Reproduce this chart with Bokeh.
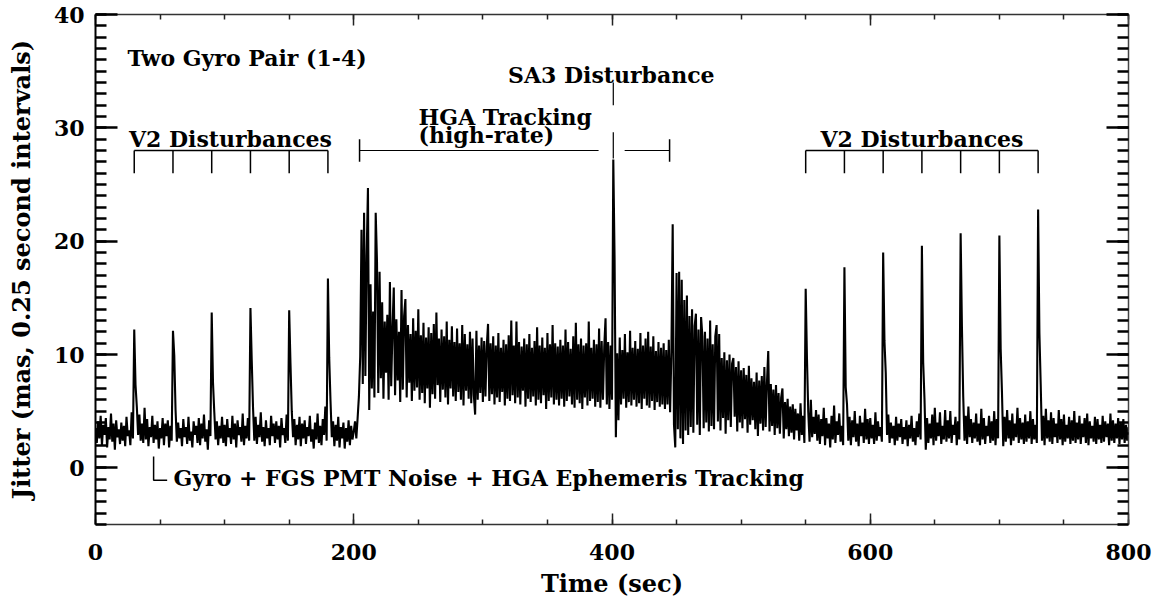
from bokeh.plotting import figure
from bokeh.models import Label, LinearAxis, SingleIntervalTicker, CustomLabelingPolicy
from bokeh.embed import file_html
from bokeh.resources import INLINE

# ---------------- data ----------------
time_sec = list(range(0, 801))  # 1-second sampling grid

jitter_mas = [
    # 0-19
    3.5, 2.2, 4.1, 2.6, 4.6, 2.0, 3.8, 2.9, 4.4, 1.8, 3.6, 2.5, 4.8, 2.3, 3.9, 1.6, 4.2, 2.7, 3.4, 2.1,
    # 20-39
    4.0, 2.4, 3.7, 1.9, 4.5, 2.8, 3.3, 2.0, 4.9, 2.6, 12.2, 7.3, 5.4, 2.9, 4.7, 2.4, 3.9, 2.2, 5.3, 2.5,
    # 40-59
    4.3, 1.9, 3.6, 2.7, 4.6, 2.2, 3.8, 2.5, 4.1, 1.7, 3.5, 2.6, 4.4, 2.0, 3.9, 2.8, 4.2, 1.8, 3.7, 2.4,
    # 60-79
    12.1, 9.9, 5.1, 2.3, 4.0, 2.6, 3.5, 1.9, 4.3, 2.7, 3.6, 2.1, 4.5, 2.4, 3.2, 1.8, 4.1, 2.9, 3.7, 2.2,
    # 80-99
    4.4, 2.0, 3.9, 2.6, 4.7, 2.3, 3.4, 1.6, 4.2, 2.8, 13.7, 7.5, 4.9, 2.5, 4.1, 2.0, 3.7, 2.6, 4.5, 2.2,
    # 100-119
    3.8, 1.9, 4.3, 2.7, 3.5, 2.1, 4.6, 2.5, 3.9, 1.8, 4.2, 2.9, 3.6, 2.3, 4.8, 2.0, 3.7, 2.6, 4.4, 2.4,
    # 120-139
    14.1, 9.5, 5.3, 2.4, 4.5, 2.1, 3.8, 2.7, 4.9, 2.3, 3.6, 1.9, 4.2, 2.6, 3.5, 2.0, 4.6, 2.8, 3.9, 2.2,
    # 140-159
    4.1, 2.5, 3.7, 1.8, 4.4, 2.9, 3.5, 2.2, 4.7, 2.4, 13.9, 9.2, 5.0, 2.7, 4.3, 2.0, 3.8, 2.5, 4.5, 1.9,
    # 160-179
    3.9, 2.6, 4.2, 2.1, 3.6, 2.8, 4.6, 2.3, 3.4, 1.7, 4.0, 2.5, 4.8, 2.2, 3.7, 2.0, 4.3, 2.9, 5.4, 2.4,
    # 180-199
    16.7, 9.7, 5.9, 2.7, 4.1, 1.9, 3.8, 2.4, 4.5, 1.8, 3.6, 2.6, 4.0, 1.7, 3.5, 2.3, 4.2, 2.0, 3.7, 2.5,
    # 200-219
    3.2, 4.1, 2.6, 4.4, 6.3, 9.8, 21.0, 7.4, 22.5, 8.1, 18.8, 24.7, 5.1, 16.2, 7.0, 13.8, 6.2, 22.5, 18.2, 6.6,
    # 220-239
    17.3, 7.9, 14.6, 6.1, 12.9, 8.4, 13.5, 6.0, 16.4, 7.2, 12.3, 15.9, 6.4, 13.1, 7.7, 12.0, 5.8, 15.7, 6.9, 13.4,
    # 240-259
    14.9, 6.2, 12.6, 7.5, 11.8, 5.9, 13.2, 6.8, 12.1, 7.1, 14.0, 6.0, 11.7, 6.6, 12.8, 5.7, 11.5, 7.0, 12.4, 5.3,
    # 260-279
    11.9, 6.5, 12.7, 6.1, 13.7, 7.3, 11.4, 5.8, 12.2, 6.9, 11.6, 6.2, 12.9, 5.6, 11.3, 7.0, 12.5, 6.3, 11.1, 5.9,
    # 280-299
    12.3, 6.7, 11.0, 6.0, 12.6, 5.5, 11.8, 6.8, 10.9, 6.1, 12.0, 5.7, 11.4, 6.4, 4.7, 12.1, 6.0, 10.8, 6.6, 11.5,
    # 300-319
    5.8, 11.2, 6.3, 10.7, 12.7, 5.9, 11.0, 6.5, 11.6, 5.6, 10.8, 6.2, 11.9, 5.8, 10.6, 6.7, 11.3, 5.5, 10.9, 6.1,
    # 320-339
    11.7, 5.9, 13.0, 6.4, 10.8, 5.7, 12.9, 6.2, 11.1, 5.6, 10.7, 6.8, 11.4, 5.4, 10.9, 6.1, 11.8, 5.8, 10.6, 6.3,
    # 340-359
    11.2, 5.5, 12.4, 6.0, 10.8, 5.7, 11.5, 6.4, 10.6, 5.2, 11.9, 5.9, 10.9, 6.2, 12.6, 5.6, 11.0, 6.0, 10.7, 5.5,
    # 360-379
    11.3, 6.1, 10.8, 5.4, 12.2, 5.9, 11.1, 6.3, 10.5, 5.6, 11.6, 5.3, 12.8, 6.0, 10.9, 5.7, 11.4, 5.2, 10.8, 6.2,
    # 380-399
    11.0, 5.5, 12.9, 5.9, 10.6, 6.1, 11.3, 5.4, 10.9, 5.8, 12.3, 5.3, 11.2, 6.0, 10.7, 13.2, 5.6, 11.1, 5.2, 10.8,
    # 400-419
    6.0, 27.2, 18.4, 2.7, 10.1, 4.2, 11.5, 5.6, 10.4, 6.1, 11.8, 5.3, 10.2, 5.8, 12.1, 5.5, 10.6, 6.0, 11.2, 5.4,
    # 420-439
    10.5, 5.7, 11.9, 5.2, 10.8, 6.1, 11.4, 5.5, 12.0, 5.3, 10.7, 5.9, 11.6, 5.1, 10.3, 5.8, 11.1, 5.4, 10.6, 5.6,
    # 440-459
    11.0, 5.2, 10.4, 5.6, 11.3, 4.9, 10.2, 21.5, 3.8, 1.8, 17.2, 3.4, 17.3, 2.6, 16.6, 2.1, 14.8, 3.3, 15.2, 2.9,
    # 460-479
    13.4, 3.6, 14.0, 3.1, 12.5, 13.6, 3.8, 12.2, 2.9, 13.3, 11.6, 3.5, 12.0, 4.0, 11.4, 3.2, 13.0, 3.7, 10.9, 3.4,
    # 480-499
    11.6, 12.6, 4.1, 11.8, 3.3, 9.7, 4.4, 10.2, 3.0, 9.5, 4.2, 10.0, 3.6, 9.2, 9.7, 4.5, 8.9, 3.2, 9.4, 4.0,
    # 500-519
    8.6, 3.5, 8.8, 4.3, 8.2, 3.1, 9.0, 3.8, 7.9, 4.2, 7.6, 3.4, 8.4, 2.8, 7.7, 3.9, 8.1, 3.3, 8.9, 3.6,
    # 520-539
    7.5, 10.3, 3.2, 7.4, 3.7, 6.9, 2.9, 7.3, 3.5, 6.6, 3.0, 6.2, 7.0, 2.6, 5.8, 3.4, 6.1, 2.8, 5.4, 3.1,
    # 540-559
    5.6, 2.5, 5.2, 3.3, 4.8, 2.4, 5.7, 2.9, 4.6, 2.2, 15.8, 9.6, 4.9, 2.3, 6.0, 2.7, 4.5, 3.0, 5.1, 2.4,
    # 560-579
    4.7, 2.1, 4.3, 2.8, 5.3, 2.0, 4.4, 2.6, 3.9, 1.8, 4.6, 2.5, 5.5, 2.2, 4.1, 2.9, 4.8, 2.3, 3.7, 2.0,
    # 580-599
    17.7, 7.1, 5.6, 2.4, 4.5, 2.0, 4.2, 2.7, 5.0, 2.3, 3.9, 1.9, 4.6, 2.8, 4.0, 2.2, 5.2, 2.5, 4.3, 2.1,
    # 600-619
    4.4, 2.6, 3.8, 2.1, 4.9, 2.4, 4.1, 2.8, 3.6, 2.3, 19.0, 11.2, 8.4, 2.9, 4.7, 2.2, 4.0, 2.6, 3.7, 2.0,
    # 620-639
    4.5, 2.4, 3.9, 2.7, 4.3, 2.1, 3.6, 2.5, 4.2, 1.9, 3.8, 2.6, 4.6, 2.3, 3.5, 2.0, 4.1, 2.7, 4.8, 2.5,
    # 640-659
    19.6, 9.3, 6.1, 1.6, 4.4, 2.2, 3.9, 2.6, 4.7, 2.0, 5.3, 2.4, 4.0, 2.8, 4.9, 2.1, 3.7, 2.5, 5.1, 2.3,
    # 660-679
    4.2, 2.6, 5.0, 2.2, 3.8, 2.9, 4.5, 2.0, 4.1, 2.5, 20.7, 12.4, 6.3, 2.4, 4.6, 2.1, 5.4, 2.7, 4.3, 2.2,
    # 680-699
    4.0, 2.6, 4.8, 2.3, 3.9, 2.0, 5.2, 2.5, 4.4, 2.1, 3.7, 2.8, 4.6, 2.2, 4.1, 2.4, 5.0, 2.0, 4.3, 2.6,
    # 700-719
    20.5, 10.5, 6.7, 1.9, 4.5, 2.3, 5.1, 2.6, 4.2, 2.0, 4.8, 2.4, 3.9, 2.7, 5.3, 2.2, 4.4, 2.5, 4.0, 2.1,
    # 720-739
    4.7, 2.3, 4.1, 2.6, 5.0, 2.1, 4.3, 2.5, 3.8, 2.2, 22.8, 11.9, 7.4, 2.4, 4.6, 2.0, 5.2, 2.6, 4.2, 2.3,
    # 740-759
    4.9, 2.1, 4.4, 2.7, 3.9, 2.2, 5.1, 2.5, 4.3, 2.0, 4.7, 2.3, 3.8, 2.6, 4.5, 2.1, 4.2, 2.4, 5.0, 2.2,
    # 760-779
    4.0, 2.5, 4.6, 2.1, 3.9, 2.7, 4.4, 2.2, 4.8, 2.0, 4.1, 2.6, 3.7, 2.3, 4.5, 2.1, 4.3, 2.5, 3.8, 2.2,
    # 780-799
    4.6, 2.3, 4.1, 2.7, 3.9, 2.0, 4.8, 2.4, 4.2, 2.2, 3.9, 2.6, 4.4, 2.1, 4.0, 2.5, 4.3, 2.2, 3.8, 2.4,
    # 800
    3.6,
]

# event times marked by the brackets (sec)
v2_left_times = [30, 60, 90, 120, 150, 180]
v2_right_times = [550, 580, 610, 640, 670, 700, 730]
hga_times = [204.5, 389.6, 409.8, 444.6]   # start, gap start, gap end, end
sa3_time = 401
floor_mark_times = [45, 55.5]

# bracket levels (mas)
bracket_level = 28
bracket_tick_low = 26
hga_tick_low, hga_tick_high = 27, 29
sa3_upper = [32, 34]
sa3_lower = [27.3, 29.6]
floor_mark_levels = [1.0, -1.1]

FONT = "DejaVu Serif"
FS = "22px"
FS_AXIS = "24px"

p = figure(width=1160, height=600, x_range=(0, 800), y_range=(-5, 40),
           output_backend="svg", toolbar_location=None,
           min_border_left=95, min_border_right=32, min_border_top=14, min_border_bottom=73)
p.grid.visible = False
p.outline_line_color = None
p.background_fill_color = "white"
p.border_fill_color = "white"

hide_all = CustomLabelingPolicy(code="""
    for (const i of [...indices]) indices.unset(i)
    return indices
""")

# ----- axes -----
def style_x(ax, labels=True):
    ax.ticker = SingleIntervalTicker(interval=200, num_minor_ticks=4)
    ax.major_tick_in = 11
    ax.major_tick_out = 0
    ax.minor_tick_in = 5
    ax.minor_tick_out = 0
    ax.axis_line_width = 1.5
    ax.axis_line_color = "#333333"
    ax.major_tick_line_width = 1.5
    ax.minor_tick_line_width = 1.5
    ax.major_tick_line_color = "#222222"
    ax.minor_tick_line_color = "#222222"
    ax.major_label_text_font = FONT
    ax.major_label_text_font_style = "bold"
    ax.major_label_text_font_size = FS
    ax.major_label_text_color = "black"
    if labels:
        ax.major_label_standoff = 19
    else:
        ax.major_label_policy = hide_all
        ax.major_label_standoff = -40


def style_y(ax, labels=True):
    ax.ticker = SingleIntervalTicker(interval=10, num_minor_ticks=10)
    ax.major_tick_in = 22
    ax.major_tick_out = 0
    ax.minor_tick_in = 11
    ax.minor_tick_out = 0
    ax.axis_line_width = 2
    ax.axis_line_color = "black"
    ax.major_tick_line_width = 2.5
    ax.minor_tick_line_width = 2.5
    ax.major_tick_line_color = "black"
    ax.minor_tick_line_color = "black"
    ax.major_label_text_font = FONT
    ax.major_label_text_font_style = "bold"
    ax.major_label_text_font_size = FS
    ax.major_label_text_color = "black"
    if labels:
        ax.major_label_standoff = 11
    else:
        ax.major_label_policy = hide_all
        ax.major_label_standoff = -40


style_x(p.xaxis[0])
style_y(p.yaxis[0])
p.xaxis[0].axis_label = "Time (sec)"
p.yaxis[0].axis_label = "Jitter (mas, 0.25 second intervals)"
for ax in (p.xaxis[0], p.yaxis[0]):
    ax.axis_label_text_font = FONT
    ax.axis_label_text_font_style = "bold"
    ax.axis_label_text_font_size = FS_AXIS
    ax.axis_label_text_color = "black"
p.xaxis[0].axis_label_standoff = 6
p.yaxis[0].axis_label_standoff = 15

top_ax = LinearAxis()
style_x(top_ax, labels=False)
p.add_layout(top_ax, "above")
right_ax = LinearAxis()
style_y(right_ax, labels=False)
right_ax.axis_line_width = 1.5
right_ax.axis_line_color = "#444444"
p.add_layout(right_ax, "right")

# ----- data line -----
p.line(time_sec, jitter_mas, line_color="black", line_width=2.1)

# ----- brackets -----
lw = 1.5
# left V2 disturbances
p.segment(x0=[v2_left_times[0]], y0=[bracket_level], x1=[v2_left_times[-1]], y1=[bracket_level],
          line_color="black", line_width=lw)
p.segment(x0=v2_left_times, y0=[bracket_level] * len(v2_left_times), x1=v2_left_times,
          y1=[bracket_tick_low] * len(v2_left_times), line_color="black", line_width=lw)
# right V2 disturbances
p.segment(x0=[v2_right_times[0]], y0=[bracket_level], x1=[v2_right_times[-1]], y1=[bracket_level],
          line_color="black", line_width=lw)
p.segment(x0=v2_right_times, y0=[bracket_level] * len(v2_right_times), x1=v2_right_times,
          y1=[bracket_tick_low] * len(v2_right_times), line_color="black", line_width=lw)
# HGA tracking
p.segment(x0=[hga_times[0], hga_times[2]], y0=[bracket_level, bracket_level],
          x1=[hga_times[1], hga_times[3]], y1=[bracket_level, bracket_level],
          line_color="black", line_width=1.2)
p.segment(x0=[hga_times[0], hga_times[3]], y0=[hga_tick_low, hga_tick_low],
          x1=[hga_times[0], hga_times[3]], y1=[hga_tick_high, hga_tick_high],
          line_color="black", line_width=lw)
# SA3 marker
p.segment(x0=[sa3_time, sa3_time], y0=[sa3_upper[0], sa3_lower[0]],
          x1=[sa3_time, sa3_time], y1=[sa3_upper[1], sa3_lower[1]],
          line_color="black", line_width=1.2)
# floor mark (L shape)
p.line(x=[floor_mark_times[0], floor_mark_times[0], floor_mark_times[1]],
       y=[floor_mark_levels[0], floor_mark_levels[1], floor_mark_levels[1]],
       line_color="black", line_width=1.5)

# ----- labels -----
def add_label(x, y, text, align="left"):
    p.add_layout(Label(x=x, y=y, text=text, text_font=FONT, text_font_style="bold",
                       text_font_size=FS, text_color="black", text_align=align,
                       text_baseline="middle"))

add_label(24.8, 36.2, "Two Gyro Pair (1-4)")
add_label(104.5, 29.0, "V2 Disturbances", "center")
add_label(640, 29.0, "V2 Disturbances", "center")
add_label(399.5, 34.7, "SA3 Disturbance", "center")
add_label(250.2, 31.0, "HGA Tracking")
add_label(250.2, 29.4, "(high-rate)")
add_label(60.4, -0.9, "Gyro + FGS PMT Noise + HGA Ephemeris Tracking")

open("out.html", "w").write(file_html(p, INLINE))
